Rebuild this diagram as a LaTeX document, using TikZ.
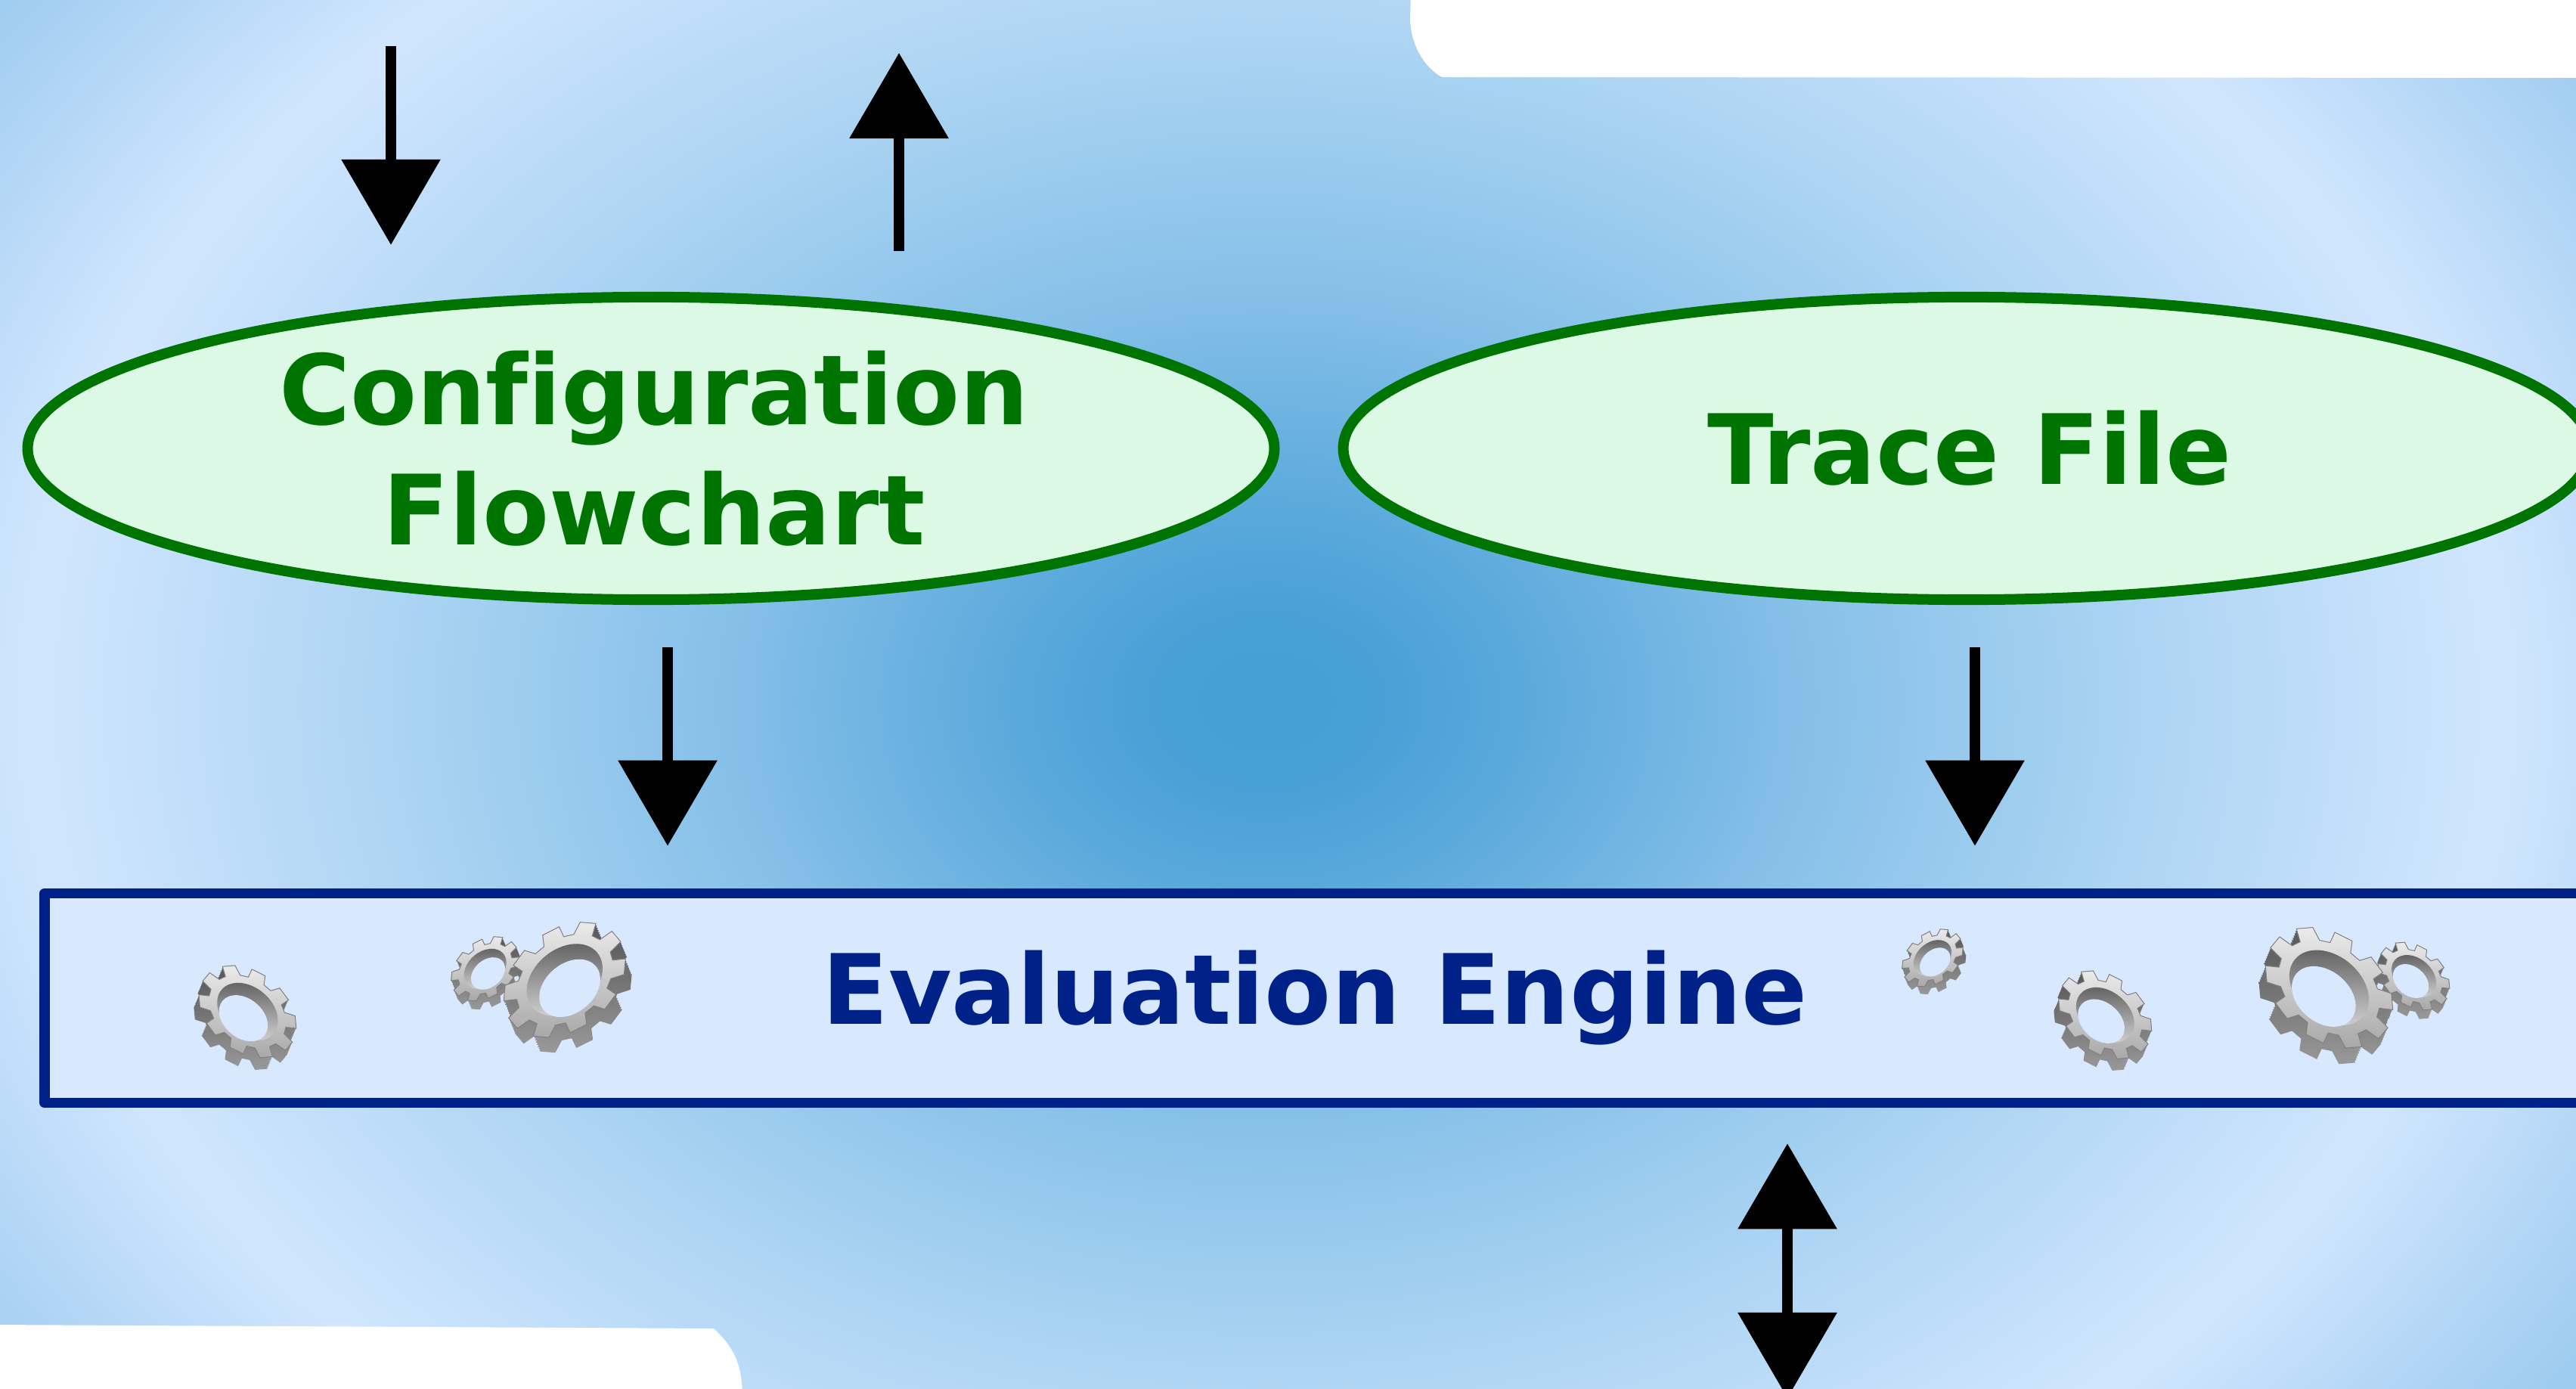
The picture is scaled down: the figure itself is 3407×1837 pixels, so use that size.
\documentclass[tikz,border=0pt]{standalone}
\usepackage{fontspec}
\setmainfont[Ligatures=NoCommon]{DejaVu Sans}
\usetikzlibrary{arrows.meta,shapes.geometric}
\definecolor{leafline}{HTML}{007400}
\definecolor{leaffill}{HTML}{DCF9E6}
\definecolor{bandline}{HTML}{002288}
\definecolor{bandfill}{HTML}{D8E9FF}
\pgfdeclareradialshading{skyglow}{\pgfpointorigin}{
    rgb(0bp)=(0.27,0.62,0.84);
    rgb(1.7bp)=(0.29,0.63,0.84);
    rgb(3.3bp)=(0.35,0.66,0.86);
    rgb(7.2bp)=(0.52,0.75,0.91);
    rgb(11.7bp)=(0.67,0.83,0.95);
    rgb(16.7bp)=(0.82,0.90,1);
    rgb(21.2bp)=(0.62,0.80,0.94);
    rgb(50bp)=(0.62,0.80,0.94)}
\tikzset{
    flow/.style={line width=0.135cm, -{Triangle[length=1.13cm,width=1.28cm]}},
    twoway/.style={line width=0.135cm, {Triangle[length=1.13cm,width=1.28cm]}-{Triangle[length=1.13cm,width=1.28cm]}},
    oval/.style={ellipse, draw=leafline, fill=leaffill, line width=0.14cm, text=leafline,
        minimum width=16.48cm, minimum height=4cm, inner sep=0pt, align=center,
        font=\fontsize{36.5}{45.2}\selectfont\bfseries},
    band/.style={rectangle, draw=bandline, fill=bandfill, line width=0.135cm, line join=round, text=bandline,
        minimum width=33.58cm, minimum height=2.77cm, inner sep=0pt,
        font=\fontsize{36.5}{45.2}\selectfont\bfseries},
    gearside/.style={top color=black!64, bottom color=black!40},
    gearface/.style={draw=black!50, line width=0.01cm, top color=black!8, bottom color=black!34},
    gearwall/.style={top color=black!62, bottom color=black!18},
}
\def\gearoutline{(-12:42) \foreach \a in {0,36,...,324} { -- (\a-12:42) -- (\a-8:53) -- (\a+8:53) -- (\a+12:42) } -- cycle}
% #1 = 1 or -1 (mirror), centre, width
\newcommand{\gearicon}[4][1]{
    \begin{scope}[shift={(#2,#3)},xscale=#1,scale=#4/100]
        \foreach \i in {0,...,7} {
            \shade[gearside,shift={(2.5-\i*0.7,-6+\i*1.7)},rotate=-40,yscale=0.72] \gearoutline;
        }
        \begin{scope}[shift={(2.5,-6)},rotate=-40,yscale=0.72]
            \path[gearface] \gearoutline;
            \shade[gearwall] (0,0) circle (33);
        \end{scope}
        \begin{scope}[shift={(2.5,-6)}]
            \begin{scope}[rotate=-40,yscale=0.72]
                \clip (0,0) circle (33);
            \end{scope}
            \fill[bandfill,shift={(-4,6.5)},rotate=-40,yscale=0.72] (0,0) circle (26.5);
        \end{scope}
    \end{scope}
}

\begin{document}
\begin{tikzpicture}[x=0.01cm,y=-0.01cm]
    \useasboundingbox (0,0) rectangle (3407,1837);
    \clip (0,0) rectangle (3407,1837);
    \shade[shading=skyglow] (1675-2445,928-1858) rectangle (1675+2445,928+1858);
    % white corners
    \fill[white] (1866,-10) -- (1865,23) .. controls (1865,60) and (1885,90) .. (1907,102) -- (3420,103) -- (3420,-10) -- cycle;
    \fill[white] (-10,1752) -- (944,1757) .. controls (968,1780) and (982,1800) .. (982,1850) -- (-10,1850) -- cycle;

    \node[oval] (config) at (861,593) {\hspace{0.08cm}Configuration\\\hspace{0.08cm}Flowchart};
    \node[oval] (trace) at (2601,593) {\hspace{0.08cm}Trace File};
    \node[band] (engine) at (1739,1320) {\raisebox{0.22cm}{Evaluation Engine}};

    \coordinate (configIn) at (517,61);
    \coordinate (configOut) at (1189,70);
    \coordinate (engineOut) at (2364,1849);
    \draw[flow,shorten >=0.62cm] (configIn) -- (configIn |- config.north);
    \draw[flow,shorten <=0.54cm] (configOut |- config.north) -- (configOut);
    \draw[flow,shorten <=0.56cm,shorten >=0.56cm] ([xshift=0.22cm]config.south) -- ([xshift=0.22cm]config.south |- engine.north);
    \draw[flow,shorten <=0.56cm,shorten >=0.56cm] ([xshift=0.11cm]trace.south) -- ([xshift=0.11cm]trace.south |- engine.north);
    \draw[twoway,shorten <=0.47cm] (engineOut |- engine.south) -- (engineOut);

    \gearicon{324}{1346}{136}
    \gearicon[-1]{644}{1287}{95}
    \gearicon[-1]{751}{1306}{170}
    \gearicon[-1]{2558}{1272}{85}
    \gearicon{2781}{1350}{130}
    \gearicon{3190}{1297}{100}
    \gearicon{3076}{1317}{178}
\end{tikzpicture}
\end{document}
